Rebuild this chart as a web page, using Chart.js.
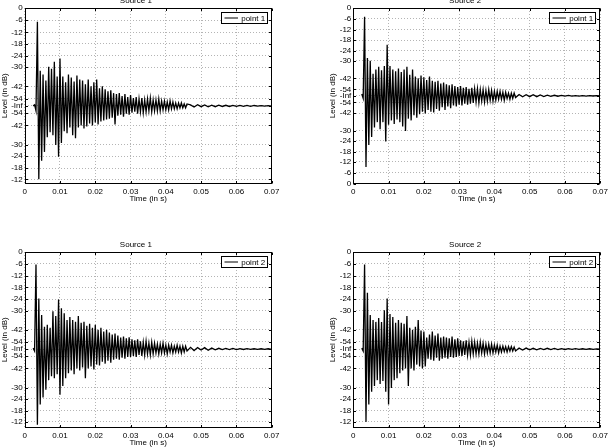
<!DOCTYPE html>
<html>
<head>
<meta charset="utf-8">
<title>Impulse responses</title>
<script src="https://cdn.jsdelivr.net/npm/chart.js@4.4.0/dist/chart.umd.min.js"></script>
<style>
    html, body { margin: 0; padding: 0; background: #fff; overflow: hidden; }
    body { position: relative; width: 611px; height: 448px; }
    canvas { position: absolute; }
</style>
</head>
<body>
<canvas id="plot1" width="300" height="244" style="left:0;top:-28px"></canvas>
<canvas id="plot2" width="311" height="244" style="left:300px;top:-28px"></canvas>
<canvas id="plot3" width="300" height="244" style="left:0;top:216px"></canvas>
<canvas id="plot4" width="311" height="244" style="left:300px;top:216px"></canvas>
<script>
// sampling of the traces (seconds)
const earlyStart = 0.0024;
const earlyStep = 0.0004;
const tailStart = 0.047;
const tailStep = 0.001;

const xTickLabels = ['0', '0.01', '0.02', '0.03', '0.04', '0.05', '0.06', '0.07'];
// level axis: signed display level, 1 = 0 dB, 0 = -Inf
const levelLabels = ['0', '-6', '-12', '-18', '-24', '-30', '-42', '-54'];
const levelMarks = [1, 0.877, 0.751, 0.635, 0.514, 0.397, 0.199, 0.074];

const plotTitles = ['Source 1', 'Source 2', 'Source 1', 'Source 2'];
const plotLegends = ['point 1', 'point 1', 'point 2', 'point 2'];
const plotBottoms = [-0.794, -1, -0.809, -0.809];

// Source 1 / point 1
const s1p1Early = [
    0, 0.01, -0.05, 0.86, -0.75, 0.36, -0.56, 0.32, -0.47, 0.26,
    -0.32, 0.40, -0.27, 0.38, -0.30, 0.45, -0.40, 0.30, -0.52, 0.485,
    -0.38, 0.30, -0.26, 0.24, -0.28, 0.32, -0.22, 0.29, -0.30, 0.25,
    -0.33, 0.31, -0.22, 0.27, -0.20, 0.26, -0.23, 0.22, -0.21, 0.27,
    -0.18, 0.20, -0.20, 0.24, -0.17, 0.27, -0.19, 0.18, -0.16, 0.20,
    -0.15, 0.17, -0.14, 0.15, -0.13, 0.16, -0.12, 0.13, -0.19, 0.12,
    -0.10, 0.13, -0.09, 0.10, -0.11, 0.12, -0.08, 0.09, -0.09, 0.11,
    -0.07, 0.08, -0.06, 0.09, -0.08, 0.07, -0.06, 0.08, -0.07, 0.06,
    -0.06, 0.07, -0.05, 0.08, -0.06, 0.06, -0.05, 0.06, -0.05, 0.07,
    -0.05, 0.05, -0.04, 0.05, -0.04, 0.04, -0.04, 0.05, -0.03, 0.04,
    -0.03, 0.03, -0.03, 0.03, -0.02, 0.03, -0.02, 0.02, -0.02, 0.02
];
const s1p1Tail = [0.01, -0.012, 0.012, -0.008, 0.01, -0.01, 0.008, -0.008, 0.008, -0.006, 0.006, -0.006,
    0.005, -0.005, 0.005, -0.004, 0.004, -0.004, 0.004, -0.003, 0.003, -0.003, 0.003, -0.003];

// Source 2 / point 1
const s2p1Early = [
    0.02, -0.03, 0.90, -0.81, 0.43, -0.56, 0.40, -0.47, 0.25, -0.36,
    0.30, -0.30, 0.33, -0.38, 0.29, -0.30, 0.34, -0.52, 0.58, -0.33,
    0.34, -0.28, 0.30, -0.32, 0.28, -0.27, 0.31, -0.30, 0.27, -0.35,
    0.30, -0.40, 0.33, -0.26, 0.24, -0.28, 0.30, -0.22, 0.22, -0.25,
    0.20, -0.21, 0.23, -0.18, 0.21, -0.20, 0.18, -0.16, 0.22, -0.18,
    0.17, -0.19, 0.16, -0.15, 0.17, -0.17, 0.14, -0.13, 0.15, -0.16,
    0.13, -0.12, 0.12, -0.14, 0.13, -0.11, 0.11, -0.12, 0.10, -0.10,
    0.11, -0.11, 0.09, -0.09, 0.10, -0.10, 0.08, -0.09, 0.09, -0.08,
    0.08, -0.07, 0.08, -0.08, 0.07, -0.06, 0.07, -0.07, 0.06, -0.06,
    0.07, -0.05, 0.06, -0.06, 0.05, -0.05, 0.05, -0.04, 0.05, -0.04,
    0.04, -0.05, 0.04, -0.03, 0.03, -0.04, 0.03, -0.03, 0.03, -0.02
];
const s2p1Tail = [0.015, -0.012, 0.012, -0.01, 0.012, -0.01, 0.01, -0.008, 0.008, -0.006, 0.006, -0.005,
    0.005, -0.004, 0.004, -0.004, 0.003, -0.003, 0.003, -0.003, 0.003, -0.002, 0.002, -0.002];

// Source 1 / point 2
const s1p2Early = [
    0.01, -0.02, 0.87, -0.78, 0.52, -0.57, 0.35, -0.50, 0.23, -0.42,
    0.25, -0.32, 0.22, -0.28, 0.39, -0.30, 0.34, -0.26, 0.51, -0.47,
    0.42, -0.38, 0.37, -0.30, 0.30, -0.25, 0.33, -0.22, 0.30, -0.26,
    0.28, -0.20, 0.34, -0.22, 0.27, -0.19, 0.28, -0.30, 0.24, -0.20,
    0.26, -0.18, 0.22, -0.21, 0.25, -0.16, 0.20, -0.17, 0.22, -0.13,
    0.18, -0.15, 0.20, -0.12, 0.17, -0.14, 0.15, -0.11, 0.16, -0.10,
    0.14, -0.11, 0.12, -0.09, 0.13, -0.10, 0.11, -0.08, 0.12, -0.08,
    0.10, -0.07, 0.09, -0.08, 0.10, -0.06, 0.08, -0.07, 0.07, -0.06,
    0.08, -0.05, 0.06, -0.06, 0.07, -0.05, 0.06, -0.04, 0.05, -0.05,
    0.05, -0.04, 0.06, -0.04, 0.04, -0.05, 0.04, -0.03, 0.04, -0.04,
    0.03, -0.03, 0.04, -0.03, 0.03, -0.04, 0.03, -0.03, 0.03, -0.02
];
const s1p2Tail = [0.018, -0.015, 0.015, -0.01, 0.015, -0.012, 0.01, -0.008, 0.008, -0.006, 0.006, -0.005,
    0.006, -0.005, 0.005, -0.004, 0.004, -0.004, 0.003, -0.003, 0.003, -0.003, 0.003, -0.003];

// Source 2 / point 2
const s2p2Early = [
    0.01, -0.02, 0.87, -0.75, 0.58, -0.57, 0.35, -0.44, 0.30, -0.38,
    0.28, -0.32, 0.32, -0.36, 0.28, -0.33, 0.40, -0.44, 0.52, -0.57,
    0.36, -0.40, 0.33, -0.32, 0.27, -0.30, 0.30, -0.25, 0.27, -0.22,
    0.26, -0.20, 0.34, -0.38, 0.22, -0.20, 0.20, -0.22, 0.23, -0.16,
    0.30, -0.18, 0.19, -0.20, 0.18, -0.18, 0.12, -0.10, 0.15, -0.11,
    0.18, -0.12, 0.14, -0.09, 0.16, -0.12, 0.12, -0.10, 0.13, -0.09,
    0.12, -0.10, 0.11, -0.08, 0.13, -0.09, 0.10, -0.08, 0.11, -0.07,
    0.09, -0.07, 0.08, -0.06, 0.09, -0.06, 0.07, -0.06, 0.08, -0.05,
    0.07, -0.05, 0.06, -0.05, 0.07, -0.04, 0.06, -0.05, 0.05, -0.04,
    0.05, -0.04, 0.05, -0.04, 0.04, -0.03, 0.04, -0.04, 0.03, -0.03,
    0.03, -0.025, 0.025, -0.03, 0.025, -0.02, 0.025, -0.02, 0.02, -0.02
];
const s2p2Tail = [0.01, -0.01, 0.01, -0.008, 0.008, -0.008, 0.006, -0.006, 0.008, -0.005, 0.006, -0.005,
    0.005, -0.004, 0.004, -0.004, 0.004, -0.003, 0.003, -0.003, 0.003, -0.003, 0.002, -0.002];

const FONT = "'Liberation Sans', Arial, Helvetica, sans-serif";
const GRID = '#b4b4b4';

const yTicks = [{ value: 0, label: '-Inf' }];
levelMarks.forEach((m, i) => {
    yTicks.push({ value: m, label: levelLabels[i] });
    yTicks.push({ value: -m, label: levelLabels[i] });
});
yTicks.sort((a, b) => a.value - b.value);

function toPoints(early, tail) {
    const pts = early.map((v, i) => ({ x: earlyStart + i * earlyStep, y: v }));
    tail.forEach((v, i) => pts.push({ x: tailStart + i * tailStep, y: v }));
    return pts;
}

// box, inner tick marks and legend drawn the Matlab way
const matlabFrame = {
    id: 'matlabFrame',
    afterDraw(chart) {
        const { ctx, chartArea: a, scales: { x, y } } = chart;
        const l = Math.round(a.left) + 0.5, r = Math.round(a.right) - 0.5;
        const t = Math.round(a.top) + 0.5, b = Math.round(a.bottom) - 0.5;
        ctx.save();
        ctx.strokeStyle = '#000';
        ctx.lineWidth = 1;
        ctx.strokeRect(l, t, r - l, b - t);

        const len = 2.5;
        ctx.beginPath();
        y.ticks.forEach(tk => {
            const py = Math.round(y.getPixelForValue(tk.value)) + 0.5;
            ctx.moveTo(l, py); ctx.lineTo(l + len, py);
            ctx.moveTo(r, py); ctx.lineTo(r - len, py);
        });
        x.ticks.forEach(tk => {
            const px = Math.round(x.getPixelForValue(tk.value)) + 0.5;
            ctx.moveTo(px, b); ctx.lineTo(px, b - len);
            ctx.moveTo(px, t); ctx.lineTo(px, t + len);
        });
        ctx.stroke();

        // legend
        const label = chart.data.datasets[0].label;
        ctx.font = '8px ' + FONT;
        const w = Math.round(19.7 + ctx.measureText(label).width + 2);
        const h = 11;
        const bx = Math.round(a.right - 5 - w) + 0.5;
        const by = Math.round(a.top + 4) + 0.5;
        ctx.fillStyle = '#fff';
        ctx.fillRect(bx, by, w, h);
        ctx.strokeRect(bx, by, w, h);
        ctx.beginPath();
        ctx.moveTo(bx + 3, by + h / 2);
        ctx.lineTo(bx + 16.5, by + h / 2);
        ctx.stroke();
        ctx.fillStyle = '#000';
        ctx.textBaseline = 'middle';
        ctx.fillText(label, bx + 19.7, by + h / 2 + 0.5);
        ctx.restore();
    }
};

function drawPlot(id, n, early, tail, padLeft, padRight, yWidth) {
    const ctx = document.getElementById(id).getContext('2d');
    const font = { family: FONT, size: 8, weight: 'normal' };
    return new Chart(ctx, {
        type: 'line',
        data: {
            datasets: [{
                label: plotLegends[n],
                data: toPoints(early, tail),
                borderColor: '#000',
                borderWidth: 1.3,
                pointRadius: 0,
                tension: 0,
                fill: false
            }]
        },
        options: {
            responsive: false,
            animation: false,
            events: [],
            layout: { padding: { left: padLeft, right: padRight, top: 0, bottom: 12.2 } },
            plugins: {
                legend: { display: false },
                tooltip: { enabled: false },
                title: {
                    display: true,
                    text: plotTitles[n],
                    color: '#000',
                    font: font,
                    padding: { top: 23.9, bottom: 2.5 }
                }
            },
            scales: {
                x: {
                    type: 'linear',
                    min: 0,
                    max: 0.07,
                    ticks: {
                        stepSize: 0.01,
                        autoSkip: false,
                        maxRotation: 0,
                        padding: 3,
                        color: '#000',
                        font: font,
                        callback: v => xTickLabels[Math.round(v * 100)]
                    },
                    grid: { color: GRID, drawTicks: false },
                    border: { display: false, dash: [1, 2] },
                    title: { display: true, text: 'Time (in s)', color: '#000', font: font, padding: 0 },
                    afterFit: s => { s.height = 20.2; }
                },
                y: {
                    type: 'linear',
                    min: plotBottoms[n],
                    max: 1,
                    afterBuildTicks: s => {
                        s.ticks = yTicks
                            .filter(tk => tk.value >= s.min - 1e-6 && tk.value <= s.max + 1e-6)
                            .map(tk => ({ value: tk.value }));
                    },
                    ticks: {
                        autoSkip: false,
                        padding: 2,
                        color: '#000',
                        font: font,
                        callback: v => {
                            const tk = yTicks.find(k => Math.abs(k.value - v) < 1e-6);
                            return tk ? tk.label : '';
                        }
                    },
                    grid: { color: GRID, drawTicks: false },
                    border: { display: false, dash: [1, 2] },
                    title: { display: true, text: 'Level (in dB)', color: '#000', font: font, padding: 0 },
                    afterFit: s => { s.width = yWidth; }
                }
            }
        },
        plugins: [matlabFrame]
    });
}

drawPlot('plot1', 0, s1p1Early, s1p1Tail, 0, 28.3, 24.7);
drawPlot('plot2', 1, s2p1Early, s2p1Tail, 27.5, 8.3, 25.8);
drawPlot('plot3', 2, s1p2Early, s1p2Tail, 0, 28.3, 24.7);
drawPlot('plot4', 3, s2p2Early, s2p2Tail, 27.5, 8.3, 25.8);
</script>
</body>
</html>
